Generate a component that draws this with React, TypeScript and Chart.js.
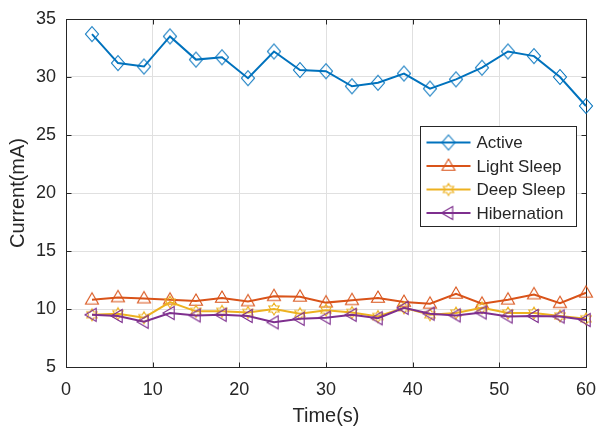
import React, { useEffect, useRef } from 'react';
import { Chart, registerables } from 'chart.js';

Chart.register(...registerables);

const timeSec = [3, 6, 9, 12, 15, 18, 21, 24, 27, 30, 33, 36, 39, 42, 45, 48, 51, 54, 57, 60];
const activeMA = [33.7, 31.2, 30.9, 33.5, 31.5, 31.7, 29.9, 32.2, 30.6, 30.5, 29.2, 29.5, 30.3, 29.0, 29.8, 30.8, 32.2, 31.8, 30.0, 27.5];
const lightSleepMA = [10.8, 11.0, 10.9, 10.8, 10.7, 10.95, 10.65, 11.1, 11.05, 10.55, 10.75, 10.95, 10.6, 10.45, 11.3, 10.45, 10.8, 11.25, 10.5, 11.4];
const deepSleepMA = [9.5, 9.6, 9.25, 10.6, 9.8, 9.8, 9.7, 10.0, 9.6, 9.9, 9.7, 9.35, 10.1, 9.5, 9.65, 10.1, 9.65, 9.65, 9.4, 9.15];
const hibernationMA = [9.5, 9.4, 8.9, 9.65, 9.45, 9.5, 9.4, 8.85, 9.15, 9.25, 9.5, 9.2, 10.1, 9.6, 9.45, 9.7, 9.35, 9.4, 9.35, 9.05];
const seriesLabels = ['Active', 'Light Sleep', 'Deep Sleep', 'Hibernation'];
const seriesColors = ['#0072BD', '#D95319', '#EDB120', '#7E2F8E'];
const seriesMarkers = ['diamond', 'triUp', 'hexagram', 'triLeft'];
const xAxisTitle = 'Time(s)';
const yAxisTitle = 'Current(mA)';
const xMin = 0, xMax = 60, xStep = 10;
const yMin = 5, yMax = 35, yStep = 5;

const FONT = '"Liberation Sans", Arial, sans-serif';
const INK = '#262626';

function makeMarker(kind: string, color: string): HTMLCanvasElement {
  const s = 22;
  const c = document.createElement('canvas');
  c.width = s;
  c.height = s;
  const ctx = c.getContext('2d')!;
  ctx.translate(s / 2, s / 2);
  ctx.strokeStyle = color;
  ctx.lineWidth = 1.1;
  ctx.lineJoin = 'miter';
  ctx.beginPath();
  if (kind === 'diamond') {
    ctx.moveTo(0, -7.5);
    ctx.lineTo(6.5, 0);
    ctx.lineTo(0, 7.5);
    ctx.lineTo(-6.5, 0);
  } else if (kind === 'triUp') {
    ctx.moveTo(0, -7);
    ctx.lineTo(6.5, 4.2);
    ctx.lineTo(-6.5, 4.2);
  } else if (kind === 'triLeft') {
    ctx.moveTo(-7, 0);
    ctx.lineTo(4.2, -6.5);
    ctx.lineTo(4.2, 6.5);
  } else {
    const R = 6, r = R / Math.sqrt(3);
    for (let i = 0; i < 12; i++) {
      const a = -Math.PI / 2 + (i * Math.PI) / 6;
      const rad = i % 2 === 0 ? R : r;
      const px = Math.cos(a) * rad, py = Math.sin(a) * rad;
      if (i === 0) ctx.moveTo(px, py); else ctx.lineTo(px, py);
    }
  }
  ctx.closePath();
  ctx.stroke();
  return c;
}

export default function App() {
  const ref = useRef<HTMLCanvasElement | null>(null);

  useEffect(() => {
    const canvas = ref.current;
    if (!canvas) return;
    const markers = seriesColors.map((c, i) => makeMarker(seriesMarkers[i], c));
    const values = [activeMA, lightSleepMA, deepSleepMA, hibernationMA];

    const framePlugin = {
      id: 'frame',
      beforeDatasetsDraw(chart: any) {
        const { ctx, chartArea: a, scales } = chart;
        ctx.save();
        ctx.strokeStyle = INK;
        ctx.lineWidth = 1;
        const L = Math.round(a.left) + 0.5, R = Math.round(a.right) + 0.5;
        const T = Math.round(a.top) + 0.5, B = Math.round(a.bottom) + 0.5;
        ctx.strokeRect(L, T, R - L, B - T);
        const tl = 5;
        ctx.beginPath();
        scales.x.ticks.forEach((t: any) => {
          const x = Math.round(scales.x.getPixelForValue(t.value)) + 0.5;
          ctx.moveTo(x, B); ctx.lineTo(x, B - tl);
          ctx.moveTo(x, T); ctx.lineTo(x, T + tl);
        });
        scales.y.ticks.forEach((t: any) => {
          const y = Math.round(scales.y.getPixelForValue(t.value)) + 0.5;
          ctx.moveTo(L, y); ctx.lineTo(L + tl, y);
          ctx.moveTo(R, y); ctx.lineTo(R - tl, y);
        });
        ctx.stroke();
        ctx.restore();
      },
    };

    const legendPlugin = {
      id: 'boxLegend',
      afterDraw(chart: any) {
        const { ctx } = chart;
        const bx = 420.5, by = 126.5, bw = 156, bh = 100;
        ctx.save();
        ctx.fillStyle = '#ffffff';
        ctx.fillRect(bx, by, bw, bh);
        ctx.strokeStyle = INK;
        ctx.lineWidth = 1;
        ctx.strokeRect(bx, by, bw, bh);
        ctx.font = '17px ' + FONT;
        ctx.textBaseline = 'middle';
        ctx.textAlign = 'left';
        seriesLabels.forEach((lab, i) => {
          const y = by + 16 + i * 23.5;
          ctx.strokeStyle = seriesColors[i];
          ctx.lineWidth = 2;
          ctx.beginPath();
          ctx.moveTo(bx + 6, y);
          ctx.lineTo(bx + 50, y);
          ctx.stroke();
          const m = markers[i];
          ctx.drawImage(m, bx + 28 - m.width / 2, y - m.height / 2);
          ctx.fillStyle = INK;
          ctx.fillText(lab, bx + 56, y + 1);
        });
        ctx.restore();
      },
    };

    const chart = new Chart(canvas, {
      type: 'line',
      data: {
        datasets: seriesLabels.map((lab, i) => ({
          label: lab,
          data: timeSec.map((t, k) => ({ x: t, y: values[i][k] })),
          borderColor: seriesColors[i],
          backgroundColor: seriesColors[i],
          borderWidth: 2,
          pointStyle: markers[i] as any,
          pointRadius: 6,
          tension: 0,
          fill: false,
          clip: false as any,
          order: 4 - i,
        })),
      },
      options: {
        animation: false,
        responsive: false,
        maintainAspectRatio: false,
        layout: { padding: { top: 19, right: 10, left: 0, bottom: 0 } },
        plugins: { legend: { display: false }, tooltip: { enabled: false } },
        scales: {
          x: {
            type: 'linear',
            min: xMin,
            max: xMax,
            ticks: { stepSize: xStep, color: INK, font: { family: FONT, size: 18 }, padding: 12, maxRotation: 0 },
            grid: { color: '#e0e0e0', drawTicks: false },
            border: { display: false },
            title: { display: true, text: xAxisTitle, color: INK, font: { family: FONT, size: 20 }, padding: { top: 0, bottom: 1.5 } },
            afterFit: (s: any) => { s.height = 63; s.paddingLeft = 0; s.paddingRight = 0; },
          },
          y: {
            type: 'linear',
            min: yMin,
            max: yMax,
            ticks: { stepSize: yStep, color: INK, font: { family: FONT, size: 18 }, padding: 10 },
            grid: { color: '#e0e0e0', drawTicks: false },
            border: { display: false },
            title: { display: true, text: yAxisTitle, color: INK, font: { family: FONT, size: 20 }, padding: { top: 6, bottom: 0 } },
            afterFit: (s: any) => { s.width = 66; s.paddingTop = 0; s.paddingBottom = 0; },
          },
        },
      },
      plugins: [framePlugin, legendPlugin],
    });
    return () => chart.destroy();
  }, []);

  return (
    <div style={{ position: 'fixed', left: 0, top: 0, width: 596, height: 430, background: '#fff' }}>
      <canvas ref={ref} width={596} height={430} style={{ width: 596, height: 430, display: 'block' }} />
    </div>
  );
}
